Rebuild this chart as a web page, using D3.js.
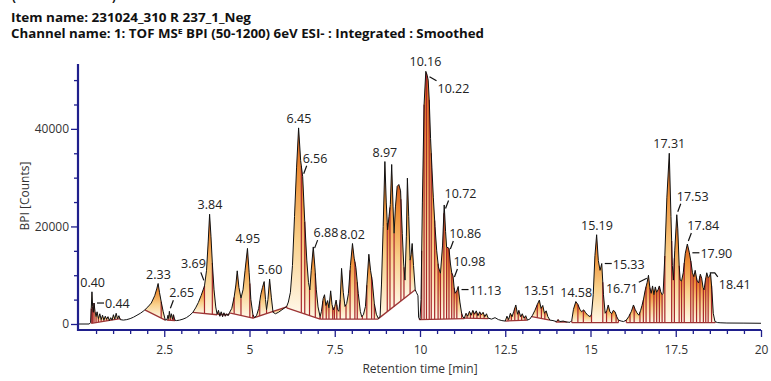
<!DOCTYPE html>
<html>
<head>
<meta charset="utf-8">
<script src="https://cdn.jsdelivr.net/npm/d3@7"></script>
<style>
  body { margin: 0; background: #fff; }
  svg { display: block; font-family: "Open Sans", "Noto Sans", sans-serif; }
</style>
</head>
<body>
<svg id="chart" width="771" height="381"></svg>
<script>
// BPI trace, [retention time (min), counts]
const traceEarly = [
  [0,0],[0.30,0],[0.34,300],[0.36,3200],[0.38,6600],[0.40,3600],[0.42,2400],[0.44,4300],[0.47,2600],[0.50,1500],
  [0.53,2500],[0.57,1100],[0.61,2100],[0.65,900],[0.69,1800],[0.73,800],[0.77,1600],[0.81,1000],[0.85,1500],[0.89,700],
  [0.93,1300],[0.97,800],[1.01,1900],[1.05,1000],[1.09,2200],[1.13,1100],[1.17,1700],[1.21,900],[1.30,800],[1.40,900],
  [1.50,1100],[1.60,1400],[1.70,1800],[1.80,2200],[1.88,2600],[1.93,2900],[2.02,3500],[2.12,4300],[2.22,5800],[2.28,7200],
  [2.32,8300],[2.36,6500],[2.41,4600],[2.47,2500],[2.53,800],[2.58,900],[2.61,1800],[2.63,1100],[2.65,2600],[2.68,1300],
  [2.71,2100],[2.74,1000],[2.77,1900],[2.81,800],[2.86,700],[2.95,800],[3.05,1000],[3.15,1300],[3.25,1800],[3.34,2400],
  [3.42,3300],[3.50,4400],[3.58,5800],[3.64,7000],[3.68,7800],[3.74,11000],[3.79,17000],[3.83,22500],[3.87,18000],[3.91,12500],
  [3.96,7000],[4.01,3500],[4.05,2000],[4.09,2800],[4.13,1600],[4.17,2500],[4.21,1500],[4.25,2300],[4.29,1600],[4.33,2100],
  [4.37,1700],[4.41,2300],[4.48,3200],[4.55,5500],[4.60,8000],[4.64,10900],[4.69,7500],[4.75,5300],[4.81,7000],[4.87,11000],
  [4.94,15500],[4.99,10500],[5.04,5000],[5.10,1900],[5.15,1300],[5.21,1800],[5.27,3200],[5.33,6000],[5.38,7500],[5.43,8700],
  [5.47,5000],[5.50,2900],[5.54,5000],[5.59,9200],[5.64,5500],[5.69,2400],[5.76,2100],[5.85,2400],[5.95,2900],[6.03,3300]
];
const traceMid = [
  [6.09,3600],[6.14,4500],[6.20,6500],[6.26,12000],[6.32,22000],[6.38,32000],[6.44,40200],[6.50,33500],[6.56,30200],[6.62,21000],
  [6.68,13100],[6.73,8500],[6.77,7000],[6.81,11000],[6.87,15800],[6.92,11500],[6.96,7000],[7.01,3500],[7.07,1500],[7.11,2600],
  [7.16,5200],[7.20,6000],[7.24,3800],[7.29,4800],[7.33,3300],[7.38,6800],[7.42,4000],[7.46,2900],[7.50,3600],[7.54,4900],
  [7.58,3000],[7.62,2600],[7.66,5000],[7.70,11400],[7.75,6500],[7.80,3600],[7.85,4200],[7.90,6200],[7.96,12000],[8.02,16500],
  [8.07,13500],[8.12,11600],[8.19,6300],[8.25,2600],[8.29,1500],[8.34,1900],[8.40,3600],[8.45,9000],[8.50,14300],[8.55,11000],
  [8.60,8800],[8.66,4200],[8.72,2000],[8.78,1100],[8.83,1600],[8.87,8000],[8.92,20000],[8.97,33300],[9.01,25000],[9.05,19300],
  [9.09,22000],[9.13,24500],[9.17,32700],[9.21,24000],[9.24,18600],[9.28,24000],[9.33,28200],[9.38,28600],[9.43,27300],[9.48,18600],
  [9.52,12500],[9.56,9000],[9.60,18000],[9.63,29900],[9.67,22000],[9.71,13100],[9.74,14200],[9.77,16500],[9.81,12000],[9.86,7000],
  [9.90,6400],[9.94,5800],[9.96,1300],[10.00,900],[10.03,5000],[10.07,25000],[10.12,45000],[10.17,51800],[10.21,51000],[10.24,50000],
  [10.27,46000],[10.31,38000],[10.35,32000],[10.39,26000],[10.44,20000],[10.49,15000],[10.54,11700],[10.60,10400],[10.66,16000],[10.71,24400],
  [10.75,19000],[10.78,15800],[10.85,15500],[10.89,12500],[10.93,10500],[10.97,9800],[11.00,7500],[11.03,6300],[11.08,6800],[11.12,7700],
  [11.17,4500],[11.22,2200],[11.26,1400],[11.30,1200],[11.35,2200],[11.40,1600],[11.45,2600],[11.50,1800],[11.55,2800],[11.60,2000],
  [11.65,2700],[11.70,1700],[11.75,2500],[11.80,1900],[11.85,2400],[11.90,1500],[11.95,2100],[12.00,1200]
];
const traceLate = [
  [12.10,1000],[12.20,1300],[12.30,900],[12.40,700],[12.50,600],[12.55,1600],[12.60,900],[12.65,2200],[12.70,1500],[12.75,2600],
  [12.81,3900],[12.86,2000],[12.90,2800],[12.95,1500],[13.00,2100],[13.05,1200],[13.10,1700],[13.15,800],[13.22,1000],[13.30,1800],
  [13.37,2800],[13.44,4000],[13.50,4900],[13.55,3200],[13.60,3800],[13.65,2200],[13.70,2700],[13.75,1500],[13.81,800],[13.90,700],
  [14.00,500],[14.05,900],[14.10,500],[14.20,600],[14.30,400],[14.40,350],[14.45,700],[14.50,3000],[14.57,4600],[14.63,4000],
  [14.69,3000],[14.74,2500],[14.80,2900],[14.86,2300],[14.92,1800],[14.99,1500],[15.03,2000],[15.08,6000],[15.13,14000],[15.18,18300],
  [15.23,13000],[15.28,11000],[15.33,12400],[15.38,6000],[15.43,2200],[15.48,2800],[15.52,3900],[15.57,2500],[15.62,2100],[15.67,2800],
  [15.72,2500],[15.77,1500],[15.82,800],[15.90,600],[15.97,500],[16.05,800],[16.12,1500],[16.20,2600],[16.26,3900],[16.31,3000],
  [16.36,2300],[16.42,1800],[16.47,2800],[16.51,3800],[16.55,4900],[16.60,6800],[16.66,8500],[16.70,10000],[16.74,7500],[16.78,6300],
  [16.82,7800],[16.86,6000],[16.90,7600],[16.94,6500],[16.98,7000],[17.02,7800],[17.06,6600],[17.10,6000],[17.13,6300],[17.18,14000],
  [17.24,26000],[17.31,35000],[17.36,22000],[17.40,12000],[17.43,9000],[17.47,15000],[17.53,22400],[17.56,19500],[17.60,12000],[17.63,9000],
  [17.67,8800],[17.72,10500],[17.78,14500],[17.84,16400],[17.90,14600],[17.95,12500],[17.99,10500],[18.03,9700],[18.07,11000],[18.12,9000],
  [18.17,8400],[18.22,10200],[18.26,9400],[18.30,7500],[18.33,7000],[18.37,9000],[18.41,10500],[18.45,9500],[18.49,9800],[18.52,10400],
  [18.56,7000],[18.60,2200],[18.65,500],[18.72,300],[18.80,250],[19.00,200],[19.50,180],[20.00,150]
];

// integration: baselines (start/end time and counts) and drop lines
const regionStart = [0.36, 1.93, 2.58, 3.34, 4.07, 4.41, 5.10, 6.09, 7.07, 8.78, 9.98, 11.30, 12.50, 13.28, 13.98, 14.45, 16.05];
const regionEnd   = [1.21, 2.53, 2.82, 4.05, 4.40, 5.10, 6.09, 7.07, 8.78, 9.86, 11.30, 12.00, 13.15, 13.81, 14.32, 15.82, 18.66];
const baseStart   = [150, 2900, 800, 2400, 2000, 2300, 1200, 3300, 1000, 1100, 900, 1200, 600, 1500, 400, 300, 300];
const baseEnd     = [1100, 800, 700, 1900, 1900, 1200, 3500, 1000, 1000, 7000, 1100, 1100, 800, 800, 400, 300, 300];
const regionDrops = [
  [0.40, 0.44, 0.50, 0.57, 0.65, 0.73, 0.81, 0.89, 0.97, 1.05, 1.13],
  [2.41],
  [2.63, 2.68, 2.74, 2.77],
  [3.68, 3.91],
  [4.13, 4.21, 4.29, 4.35],
  [4.55, 4.75, 5.01],
  [5.30, 5.50, 5.69],
  [6.52, 6.62, 6.76, 6.93],
  [7.15, 7.25, 7.33, 7.44, 7.49, 7.56, 7.66, 7.83, 7.95, 8.09, 8.16, 8.31, 8.44, 8.58, 8.66],
  [9.04, 9.12, 9.24, 9.44, 9.53, 9.71],
  [10.05, 10.12, 10.19, 10.27, 10.33, 10.43, 10.53, 10.60, 10.70, 10.78, 10.85, 10.93, 11.00, 11.08, 11.22],
  [11.38, 11.48, 11.57, 11.67, 11.77, 11.88],
  [12.58, 12.68, 12.78, 12.88, 12.98, 13.08],
  [13.44, 13.56, 13.66],
  [14.05, 14.20],
  [14.63, 14.79, 15.03, 15.36, 15.47, 15.62, 15.75],
  [16.16, 16.28, 16.45, 16.55, 16.63, 16.74, 16.86, 16.94, 17.02, 17.10, 17.18, 17.38, 17.46, 17.60, 17.67, 17.75, 17.94, 18.01, 18.11, 18.21, 18.31, 18.38, 18.45, 18.55]
];

// peak labels (retention times) and how each one is annotated
const labelTimes = [0.40, 0.44, 2.33, 2.65, 3.69, 3.84, 4.95, 5.60, 6.45, 6.56, 6.88, 8.02, 8.97, 10.16, 10.22,
  10.72, 10.86, 10.98, 11.13, 13.51, 14.58, 15.19, 15.33, 16.71, 17.31, 17.53, 17.84, 17.90, 18.41];
const labelKinds = ['top', 'dash', 'top', 'up', 'upL', 'top', 'top', 'top', 'top', 'up', 'up', 'top', 'top', 'top', 'downR',
  'up', 'up', 'up', 'dash', 'top', 'top', 'top', 'dash', 'downL', 'top', 'up', 'up', 'dash', 'bent'];

const xTicks = d3.range(0.5, 20.01, 0.5);
const yTicks = d3.range(0, 50001, 5000);

const AXIS = '#1f1f8c';
const svg = d3.select('#chart');
const x = d3.scaleLinear().domain([0, 20]).range([79, 761]);
const y = d3.scaleLinear().domain([0, 53300]).range([324, 64]);

const trace = traceEarly.concat(traceMid, traceLate);
const bisect = d3.bisector(d => d[0]).left;

function traceAt(t) {
  const i = bisect(trace, t);
  if (i <= 0) return trace[0][1];
  if (i >= trace.length) return trace[trace.length - 1][1];
  const a = trace[i - 1], b = trace[i];
  return a[1] + (b[1] - a[1]) * (t - a[0]) / (b[0] - a[0]);
}
function peakAt(t, w) {
  let m = traceAt(t);
  trace.forEach(p => { if (Math.abs(p[0] - t) <= w) m = Math.max(m, p[1]); });
  return m;
}

// titles (top of the page is cut, as in the export)
svg.append('text').attr('x', 12).attr('y', 1).attr('font-size', 11.5).attr('font-weight', 700).attr('fill', '#111').text('(');
svg.append('text').attr('x', 112).attr('y', 1).attr('font-size', 11.5).attr('font-weight', 700).attr('fill', '#111').text(')');
svg.append('text').attr('x', 11).attr('y', 22).attr('font-size', 11.5).attr('font-weight', 700).attr('fill', '#111')
  .attr('textLength', 240).attr('lengthAdjust', 'spacingAndGlyphs')
  .text('Item name: 231024_310 R 237_1_Neg');
const ch = svg.append('text').attr('x', 11).attr('y', 37.5).attr('font-size', 11.5).attr('font-weight', 700).attr('fill', '#111')
  .attr('textLength', 473).attr('lengthAdjust', 'spacingAndGlyphs');
ch.append('tspan').text('Channel name: 1: TOF MS');
ch.append('tspan').attr('font-size', 7.5).attr('dy', -4).text('E');
ch.append('tspan').attr('dy', 4).text(' BPI (50-1200) 6eV ESI- : Integrated : Smoothed');

// gradient used for each integrated slice
const grad = svg.append('defs').append('linearGradient').attr('id', 'peakFill')
  .attr('x1', 0).attr('y1', 0).attr('x2', 0).attr('y2', 1);
[[0, '#d75a1c'], [0.25, '#ef9238'], [0.6, '#f9d08a'], [1, '#fff8e8']]
  .forEach(([o, c]) => grad.append('stop').attr('offset', o).attr('stop-color', c));

const line = d3.line().x(d => x(d[0])).y(d => y(d[1]));
const gFill = svg.append('g');
const gDrop = svg.append('g').attr('stroke', '#a8262b').attr('stroke-width', 1.2);
const gBase = svg.append('g').attr('stroke', '#9c3434').attr('stroke-width', 1.3);

regionStart.forEach((s, i) => {
  const e = regionEnd[i];
  const base = t => baseStart[i] + (baseEnd[i] - baseStart[i]) * (t - s) / (e - s);
  const cuts = [s, ...regionDrops[i], e];
  for (let k = 0; k < cuts.length - 1; k++) {
    const a = cuts[k], b = cuts[k + 1];
    const pts = [[a, traceAt(a)], ...trace.filter(p => p[0] > a && p[0] < b), [b, traceAt(b)], [b, base(b)], [a, base(a)]];
    gFill.append('path').attr('d', line(pts) + 'Z').attr('fill', 'url(#peakFill)');
  }
  gDrop.selectAll(null).data(cuts).enter().append('line')
    .attr('x1', d => x(d)).attr('x2', d => x(d))
    .attr('y1', d => y(base(d))).attr('y2', d => y(traceAt(d)));
  gBase.append('line')
    .attr('x1', x(s)).attr('y1', y(baseStart[i]))
    .attr('x2', x(e)).attr('y2', y(baseEnd[i]));
});

// chromatogram trace
svg.append('path').datum(trace).attr('d', line)
  .attr('fill', 'none').attr('stroke', '#111').attr('stroke-width', 1);

// axes
const xAxis = svg.append('g').attr('transform', 'translate(0,330)')
  .call(d3.axisBottom(x).tickValues(xTicks).tickSize(4).tickSizeOuter(0)
    .tickFormat(d => (d % 2.5 === 0 ? String(d) : '')));
xAxis.select('.domain').attr('stroke', AXIS).attr('stroke-width', 2.2).attr('d', 'M78,0H761');
xAxis.selectAll('.tick line').attr('stroke', AXIS).attr('stroke-width', 1.3)
  .attr('y2', d => (d % 2.5 === 0 ? 7 : 4));
xAxis.selectAll('.tick text').attr('y', 15).attr('fill', '#333').attr('font-size', 12)
  .attr('font-family', '"Open Sans", sans-serif');

const yAxis = svg.append('g').attr('transform', 'translate(78,0)')
  .call(d3.axisLeft(y).tickValues(yTicks).tickSize(4).tickSizeOuter(0)
    .tickFormat(d => (d % 20000 === 0 ? String(d) : '')));
yAxis.select('.domain').attr('stroke', AXIS).attr('stroke-width', 2.2).attr('d', 'M0,64V331');
yAxis.selectAll('.tick line').attr('stroke', AXIS).attr('stroke-width', 1.3)
  .attr('x2', d => (d % 20000 === 0 ? -7 : -4));
yAxis.selectAll('.tick text').attr('x', -9).attr('fill', '#333').attr('font-size', 12)
  .attr('font-family', '"Open Sans", sans-serif');

svg.append('text').attr('x', 420).attr('y', 373).attr('text-anchor', 'middle')
  .attr('font-size', 12).attr('fill', '#333').text('Retention time [min]');
svg.append('text').attr('transform', 'translate(29,196) rotate(-90)').attr('text-anchor', 'middle')
  .attr('font-size', 12).attr('fill', '#333').text('BPI [Counts]');

// peak annotations
const layouts = {
  top:   { lead: null, tx: 0, ty: -5, anchor: 'middle' },
  up:    { lead: [[1, -3], [4, -11]], tx: 0, ty: -14, anchor: 'start' },
  upL:   { lead: [[-1, -3], [-4, -11]], tx: 1, ty: -15, anchor: 'end' },
  downR: { lead: [[2, 0], [9, 4]], tx: 10, ty: 16, anchor: 'start' },
  dash:  { lead: [[3, 0], [10, 0]], tx: 11, ty: 5, anchor: 'start' },
  downL: { lead: [[-2, 0], [-10, 4]], tx: -11, ty: 15, anchor: 'end' },
  bent:  { lead: [[3, 0], [8, 0], [11, 4]], tx: 12, ty: 16, anchor: 'start' }
};
const gLab = svg.append('g');
labelTimes.forEach((t, i) => {
  const L = layouts[labelKinds[i]];
  const ax = x(t);
  const ay = y(labelKinds[i] === 'top' ? peakAt(t, 0.04) : traceAt(t));
  if (L.lead) {
    gLab.append('path').attr('d', d3.line()(L.lead.map(p => [ax + p[0], ay + p[1]])))
      .attr('fill', 'none').attr('stroke', '#111').attr('stroke-width', 1.2);
  }
  gLab.append('text').attr('x', ax + L.tx).attr('y', ay + L.ty).attr('text-anchor', L.anchor)
    .attr('font-size', 12.5).attr('fill', '#222').text(t.toFixed(2));
});
</script>
</body>
</html>
